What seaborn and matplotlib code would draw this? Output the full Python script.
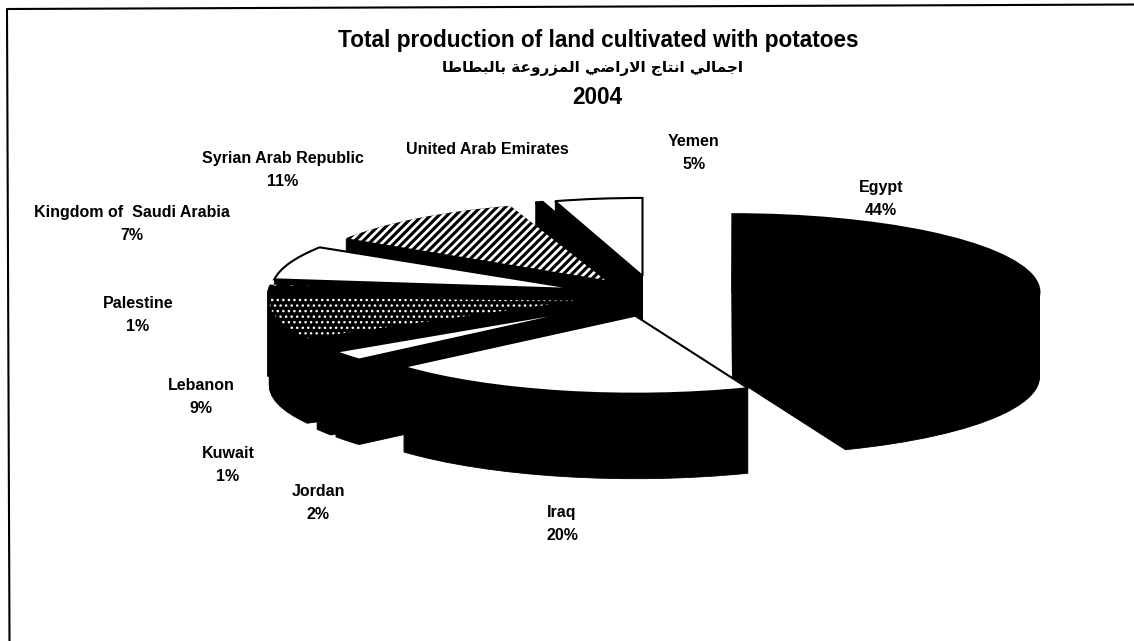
import unicodedata
import matplotlib
matplotlib.use("Agg")
import matplotlib.pyplot as plt
import seaborn as sns

countries = ["Egypt", "Iraq", "Jordan", "Kuwait", "Lebanon", "Palestine",
             "Kingdom of  Saudi Arabia", "Syrian Arab Republic", "United Arab Emirates", "Yemen"]
shares = [44, 19.6, 2, 1.4, 8.6, 1.4, 7, 11, 0.4, 4.6]
title_en = "Total production of land cultivated with potatoes"
title_ar = "اجمالي انتاج الاراضي المزروعة بالبطاطا"
title_year = "2004"

RIGHT_JOIN = set("اأإآدذرزوؤةى")


def shape_arabic(text):
    text = text.replace("لا", "\ufefb")
    out = []
    n = len(text)

    def is_ar(c):
        return c == "\ufefb" or "\u0600" <= c <= "\u06ff"

    for i, c in enumerate(text):
        prev_c = text[i - 1] if i else " "
        next_c = text[i + 1] if i + 1 < n else " "
        if not is_ar(c):
            out.append(c)
            continue
        joins_prev = is_ar(prev_c) and prev_c not in RIGHT_JOIN and prev_c != "\ufefb"
        if c == "\ufefb":
            out.append("\ufefc" if joins_prev else "\ufefb")
            continue
        joins_next = is_ar(next_c) and c not in RIGHT_JOIN
        form = {(False, False): "ISOLATED", (True, False): "FINAL",
                (False, True): "INITIAL", (True, True): "MEDIAL"}[(joins_prev, joins_next)]
        out.append(unicodedata.lookup(f"{unicodedata.name(c)} {form} FORM"))
    return "".join(reversed(out))


sns.set_theme(style="white")
plt.rcParams["font.family"] = ["Liberation Sans", "DejaVu Sans"]
plt.rcParams["hatch.linewidth"] = 1.0

W, H = 1134, 641
fig = plt.figure(figsize=(W / 100, H / 100), dpi=100, facecolor="white")
ax = fig.add_axes([0, 0, 1, 1])

# pie geometry, in pixels
cx, cy, a, b, depth = 654, 296, 307, 78, 85
explode = [0.26] * len(shares)

for d in range(depth, 0, -1):
    ax.pie(shares, startangle=90, counterclock=False, explode=explode,
           center=(0, -d / b), colors=["black"] * len(shares),
           wedgeprops=dict(linewidth=0.6, edgecolor="black"))

top_faces = ["black", "white", "white", "black", "black", "black", "white", "black", "black", "white"]
wedges, _ = ax.pie(shares, startangle=90, counterclock=False, explode=explode,
                   colors=top_faces, wedgeprops=dict(linewidth=1.5, edgecolor="black"))
patterns = {4: ("...", 1.0), 5: (".", 1.0), 7: ("////", 2.0)}
for idx, (pat, hlw) in patterns.items():
    wedges[idx].set_hatch(pat)
    wedges[idx].set_edgecolor("white")
    wedges[idx].set_linewidth(0)
    if hasattr(wedges[idx], "set_hatch_linewidth"):
        wedges[idx].set_hatch_linewidth(hlw)

ax.set_aspect("auto")
ax.set_position([0, 0, 1, 1])
ax.set_xlim((0 - cx) / a, (W - cx) / a)
ax.set_ylim((cy - H) / b, cy / b)

ov = fig.add_axes([0, 0, 1, 1], facecolor="none")
ov.set_xlim(0, W)
ov.set_ylim(H, 0)
ov.axis("off")
ov.plot([9.5, 7, W], [H, 9, 4.5], color="black", lw=1.5)

ov.text(598, 41, title_en, ha="center", va="center", fontsize=16.3, fontweight="bold", color="black")
ov.text(592, 68, shape_arabic(title_ar), ha="center", va="center", fontsize=11,
        fontweight="bold", color="black", family=["DejaVu Sans"])
ov.text(597, 98, title_year, ha="center", va="center", fontsize=16.3, fontweight="bold", color="black")

label_xy = [(881, 199), (562, 524), (318, 503), (228, 465), (201, 397), (138, 315),
            (132, 224), (283, 170), (487, 149), (694, 153)]
for name, v, (x, y) in zip(countries, shares, label_xy):
    pct = round(v)
    txt = f"{name}\n{pct}%" if pct else name
    ov.text(x, y, txt, ha="center", va="center", fontsize=11.5, fontweight="bold",
            color="black", linespacing=1.64)

fig.savefig("out.png", dpi=100, facecolor="white")
